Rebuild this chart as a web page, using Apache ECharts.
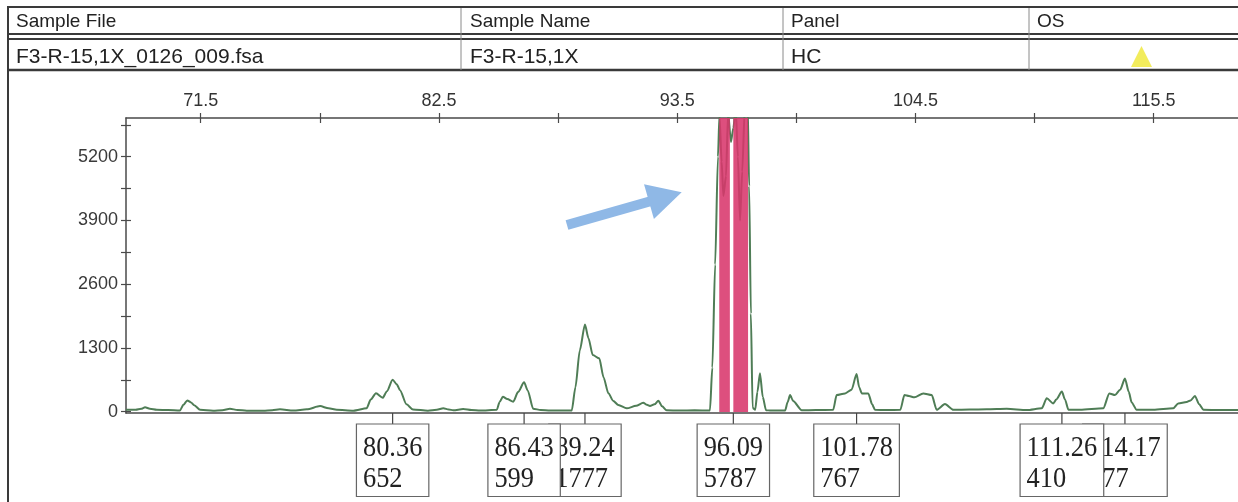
<!DOCTYPE html>
<html><head><meta charset="utf-8">
<script src="https://cdn.jsdelivr.net/npm/echarts@6/dist/echarts.min.js"></script>
<style>html,body{margin:0;padding:0;background:#fff}#c{width:1238px;height:502px}</style>
</head><body><div id="c"></div>
<script>
// ---- data ----
const traceSize = [68.05,68.5,68.75,68.93,69.15,69.47,70.0,70.54,70.7,70.88,71.05,71.2,71.47,72.07,72.5,72.85,73.2,73.62,74.39,74.8,75.16,75.78,76.4,77.01,77.4,77.78,78.55,79.16,79.35,79.59,79.9,80.1,80.36,80.55,80.7,81.0,81.3,81.99,82.4,82.7,82.95,83.16,83.62,84.0,84.4,85.17,85.3,85.45,85.65,85.93,86.15,86.43,86.6,86.85,87.2,87.63,88.63,88.8,89.0,89.24,89.4,89.6,89.9,90.1,90.32,90.55,90.78,91.17,91.6,91.93,92.1,92.24,92.45,92.63,92.8,93.01,93.6,94.3,95.01,95.12,95.25,95.38,95.45,95.55,95.63,95.75,95.85,95.98,96.09,96.2,96.3,96.4,96.5,96.62,96.75,96.82,96.9,96.98,97.1,97.2,97.32,97.45,97.6,97.79,98.48,98.6,98.71,98.85,99.25,99.9,100.7,100.86,101.25,101.55,101.78,101.9,102.02,102.32,102.5,102.63,103.2,103.8,103.99,104.2,104.45,104.86,105.25,105.48,105.86,106.25,107.0,107.79,108.71,109.64,110.33,110.56,110.86,111.0,111.26,111.4,111.56,112.1,113.17,113.45,113.71,113.95,114.17,114.35,114.48,114.71,115.48,116.4,116.63,117.02,117.2,117.4,117.6,117.79,118.56,119.39];
const traceRFU = [40,40,60,90,60,40,35,25,140,230,190,130,40,22,30,60,35,22,22,30,48,25,50,115,70,40,22,70,250,375,285,420,652,560,440,150,45,22,40,70,45,30,55,35,25,40,200,306,260,205,400,599,430,60,35,25,25,500,1250,1777,1500,1156,1088,700,375,220,137,69,120,184,140,116,150,224,110,30,25,28,25,900,3000,5200,6050,5100,4400,4800,6100,5500,5787,6200,5200,3900,4900,6200,6300,4600,2000,80,40,400,783,300,30,25,25,200,340,220,30,35,40,340,374,450,767,500,374,374,150,40,35,40,340,320,293,374,340,40,157,40,45,50,60,35,70,273,170,250,410,250,40,40,70,374,340,450,677,400,190,40,40,70,170,200,230,320,150,40,35,35];
const xTickValues = [71.5,77,82.5,88,93.5,99,104.5,110,115.5];
const xLabelValues = [71.5,82.5,93.5,104.5,115.5];
const yTickValues = [0,650,1300,1950,2600,3250,3900,4550,5200,5850];
const yLabelValues = [0,1300,2600,3900,5200];
const peakSizes = [80.36,86.43,89.24,96.09,101.78,111.26,114.17];
const peakHeights = [652,599,1777,5787,767,410,677];
const offscaleStart = [95.44,96.09];
const offscaleEnd = [95.93,96.77];
const headerColumns = ['Sample File','Sample Name','Panel','OS'];
const headerValues = ['F3-R-15,1X_0126_009.fsa','F3-R-15,1X','HC',''];
const arrowFrom = [88.41,3807];
const arrowTo = [92.95,4380];

// ---- layout constants ----
const X_MIN = 68.05, X_MAX = 119.39, Y_MIN = -26, Y_MAX = 5990;
const colX = [16,470,791,1037];
const sepX = [461,783,1029];
const AXIS = '#4a4a4a', LINE = '#3a3a3a';
const boxFont = '30px "Liberation Serif"', boxScale = 0.88;

const mctx = document.createElement('canvas').getContext('2d');
mctx.font = boxFont;
function tw(s){ return mctx.measureText(s).width * boxScale; }

const chart = echarts.init(document.getElementById('c'), null, {renderer:'canvas'});

const traceData = traceSize.map((x,i)=>[x,traceRFU[i]]);
const bandData = offscaleStart.map((s,i)=>[s,offscaleEnd[i]]);
const peakData = peakSizes.map((s,i)=>[s,peakHeights[i],i]);

const graphic = [];
[[7,2],[34,2],[39,2],[70,2.5]].forEach(([y,w])=>graphic.push({type:'line',silent:true,shape:{x1:7,y1:y,x2:1238,y2:y},style:{stroke:LINE,lineWidth:w}}));
graphic.push({type:'line',silent:true,shape:{x1:8,y1:6,x2:8,y2:502},style:{stroke:LINE,lineWidth:2}});
sepX.forEach(x=>graphic.push({type:'line',silent:true,shape:{x1:x,y1:8,x2:x,y2:70},style:{stroke:'#8a8a8a',lineWidth:1}}));
headerColumns.forEach((t,i)=>graphic.push({type:'text',silent:true,x:colX[i],y:22,style:{text:t,font:'19px "Liberation Sans"',fill:'#222',align:'left',verticalAlign:'middle'}}));
headerValues.forEach((t,i)=>{ if(t) graphic.push({type:'text',silent:true,x:colX[i],y:57,style:{text:t,font:'21px "Liberation Sans"',fill:'#222',align:'left',verticalAlign:'middle'}}); });
graphic.push({type:'polygon',silent:true,shape:{points:[[1141.5,46],[1131,67],[1152,67]]},style:{fill:'#f2ec5c'}});

const axisCommon = {type:'value', min:X_MIN, max:X_MAX, splitLine:{show:false}};
const option = {
  animation:false,
  grid:{left:126, top:118, right:0, bottom:89, containLabel:false},
  xAxis:[
    Object.assign({}, axisCommon, {position:'top',
      axisLine:{show:true,onZero:false,lineStyle:{color:AXIS,width:1.5}},
      axisTick:{show:true,length:5,customValues:xTickValues,lineStyle:{color:AXIS,width:1.2}},
      axisLabel:{show:true,customValues:xLabelValues,margin:8,fontSize:18,fontFamily:'Liberation Sans',color:'#333',formatter:v=>v.toFixed(1)}}),
    Object.assign({}, axisCommon, {position:'top',
      axisLine:{show:false,onZero:false},
      axisTick:{show:true,inside:true,length:5,customValues:xTickValues,lineStyle:{color:AXIS,width:1.2}},
      axisLabel:{show:false}}),
    Object.assign({}, axisCommon, {position:'bottom',
      axisLine:{show:true,onZero:false,lineStyle:{color:AXIS,width:1.5}},
      axisTick:{show:false}, axisLabel:{show:false}})
  ],
  yAxis:[
    {type:'value',min:Y_MIN,max:Y_MAX,position:'left',splitLine:{show:false},
      axisLine:{show:true,onZero:false,lineStyle:{color:AXIS,width:1.5}},
      axisTick:{show:true,length:5,customValues:yTickValues,lineStyle:{color:AXIS,width:1.2}},
      axisLabel:{show:true,customValues:yLabelValues,margin:8,fontSize:18,fontFamily:'Liberation Sans',color:'#3a3a3a',formatter:v=>String(v)}},
    {type:'value',min:Y_MIN,max:Y_MAX,position:'left',splitLine:{show:false},
      axisLine:{show:false,onZero:false},
      axisTick:{show:true,inside:true,length:5,customValues:yTickValues,lineStyle:{color:AXIS,width:1.2}},
      axisLabel:{show:false}}
  ],
  graphic: graphic,
  series:[
    {type:'line', xAxisIndex:0, yAxisIndex:0, data:traceData, showSymbol:false, symbol:'none',
      smooth:0.25, smoothMonotone:'x', clip:true, z:2,
      lineStyle:{color:'#4f7d56', width:2},
      markLine:{silent:true, symbol:['none','triangle'], symbolSize:[36,34],
        label:{show:false}, emphasis:{disabled:true},
        lineStyle:{color:'#8fb8e6', width:10, type:'solid', opacity:1, cap:'butt'},
        data:[[{coord:arrowFrom},{coord:arrowTo}]]}
    },
    {type:'custom', xAxisIndex:0, yAxisIndex:0, data:bandData, z:3, clip:true, silent:true,
      encode:{x:[0,1]},
      renderItem:function(params, api){
        const p0 = api.coord([api.value(0), Y_MAX]);
        const p1 = api.coord([api.value(1), Y_MIN]);
        return {type:'rect', shape:{x:p0[0], y:p0[1], width:p1[0]-p0[0], height:p1[1]-p0[1]-1},
          style:{fill:'#d8376c', opacity:0.88}};
      }
    },
    {type:'custom', xAxisIndex:0, yAxisIndex:0, data:peakData, z:4, clip:false, silent:true,
      encode:{x:0},
      renderItem:function(params, api){
        const s = api.value(0), h = api.value(1), idx = api.value(2);
        const p = api.coord([s, Y_MIN]);
        const l1 = s.toFixed(2), l2 = String(h);
        const w = Math.max(tw(l1), tw(l2)) + 13;
        const x = p[0], top = 424, bot = 496.5;
        const z = (20 - idx) * 10;
        return {type:'group', children:[
          {type:'line', z2:z, shape:{x1:x, y1:p[1], x2:x, y2:top}, style:{stroke:'#444', lineWidth:1.2}},
          {type:'rect', z2:z, shape:{x:x - w/2, y:top, width:w, height:bot-top}, style:{fill:'#fff', stroke:'#666', lineWidth:1.2}},
          {type:'text', z2:z+1, x:x - w/2 + 6.5, y:448, scaleX:boxScale, style:{text:l1, font:boxFont, fill:'#222', align:'left', verticalAlign:'middle'}},
          {type:'text', z2:z+1, x:x - w/2 + 6.5, y:479, scaleX:boxScale, style:{text:l2, font:boxFont, fill:'#222', align:'left', verticalAlign:'middle'}}
        ]};
      }
    }
  ]
};
chart.setOption(option);
</script>
</body></html>
